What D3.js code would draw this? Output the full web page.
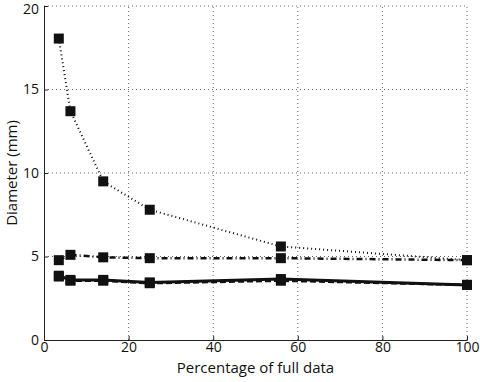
<!DOCTYPE html>
<html>
<head>
<meta charset="utf-8">
<script src="https://cdn.jsdelivr.net/npm/d3@7"></script>
<style>
  body { margin: 0; background: #fff; }
  text { font-family: "Open Sans", sans-serif; fill: #111; }
</style>
</head>
<body>
<div id="chart"></div>
<script>
var pct = [3.5, 6.25, 14, 25, 56, 100];
var dotted = [18.05, 13.7, 9.5, 7.8, 5.6, 4.78];
var dashDot = [4.78, 5.1, 4.95, 4.9, 4.9, 4.78];
var solid = [3.85, 3.6, 3.6, 3.45, 3.65, 3.3];
var dashed = [3.8, 3.55, 3.55, 3.4, 3.55, 3.3];
var xTicks = [0, 20, 40, 60, 80, 100];
var yTicks = [0, 5, 10, 15, 20];

var width = 480, height = 382;
var margin = {top: 6, right: 13, bottom: 42, left: 44};

var svg = d3.select("#chart").append("svg")
    .attr("width", width)
    .attr("height", height);

var x = d3.scaleLinear().domain([0, 100]).range([margin.left, width - margin.right]);
var y = d3.scaleLinear().domain([0, 20]).range([height - margin.bottom, margin.top]);

// grid
svg.append("g").selectAll("line.vgrid")
    .data(xTicks.slice(1))
    .enter().append("line")
    .attr("x1", d => x(d)).attr("x2", d => x(d))
    .attr("y1", y(0)).attr("y2", y(20))
    .attr("stroke", "#666").attr("stroke-width", 1)
    .attr("stroke-dasharray", "1,3");

svg.append("g").selectAll("line.hgrid")
    .data(yTicks.slice(1))
    .enter().append("line")
    .attr("x1", x(0)).attr("x2", x(100))
    .attr("y1", d => y(d)).attr("y2", d => y(d))
    .attr("stroke", "#666").attr("stroke-width", 1)
    .attr("stroke-dasharray", "1,3");

var xAxis = d3.axisBottom(x).tickValues(xTicks).tickSizeInner(-4).tickSizeOuter(0).tickPadding(4);
var yAxis = d3.axisLeft(y).tickValues(yTicks).tickSizeInner(-4).tickSizeOuter(0).tickPadding(5);

svg.append("g")
    .attr("transform", `translate(0, ${y(0)})`)
    .call(xAxis)
    .call(g => g.selectAll("text").style("font-size", "14px").attr("dy", "0.6em"))
    .call(g => g.selectAll("line, path").attr("stroke", "#222"));

svg.append("g")
    .attr("transform", `translate(${x(0)}, 0)`)
    .call(yAxis)
    .call(g => g.selectAll("text").style("font-size", "14px"))
    .call(g => g.select(".tick:last-of-type text").attr("dy", "0.5em"))
    .call(g => g.selectAll("line, path").attr("stroke", "#222"));

svg.append("text")
    .attr("x", (x(0) + x(100)) / 2)
    .attr("y", height - 9)
    .attr("text-anchor", "middle")
    .style("font-size", "15px")
    .text("Percentage of full data");

svg.append("text")
    .attr("transform", `translate(17, ${(y(0) + y(20)) / 2}) rotate(-90)`)
    .attr("text-anchor", "middle")
    .style("font-size", "15px")
    .text("Diameter (mm)");

var series = [
    {vals: dotted, dash: "1,3", w: 2},
    {vals: dashDot, dash: "6,3,1,3", w: 2.5},
    {vals: dashed, dash: "6,3", w: 2.5},
    {vals: solid, dash: null, w: 3}
];

var line = d3.line().x(d => x(d[0])).y(d => y(d[1]));

series.forEach(s => {
    var pts = pct.map((p, i) => [p, s.vals[i]]);
    svg.append("path")
        .datum(pts)
        .attr("d", line)
        .attr("fill", "none")
        .attr("stroke", "#111")
        .attr("stroke-width", s.w)
        .attr("stroke-dasharray", s.dash);

    svg.append("g").selectAll("rect")
        .data(pts)
        .enter().append("rect")
        .attr("x", d => x(d[0]) - 5)
        .attr("y", d => y(d[1]) - 5)
        .attr("width", 10)
        .attr("height", 10)
        .attr("fill", "#111");
});
</script>
</body>
</html>
